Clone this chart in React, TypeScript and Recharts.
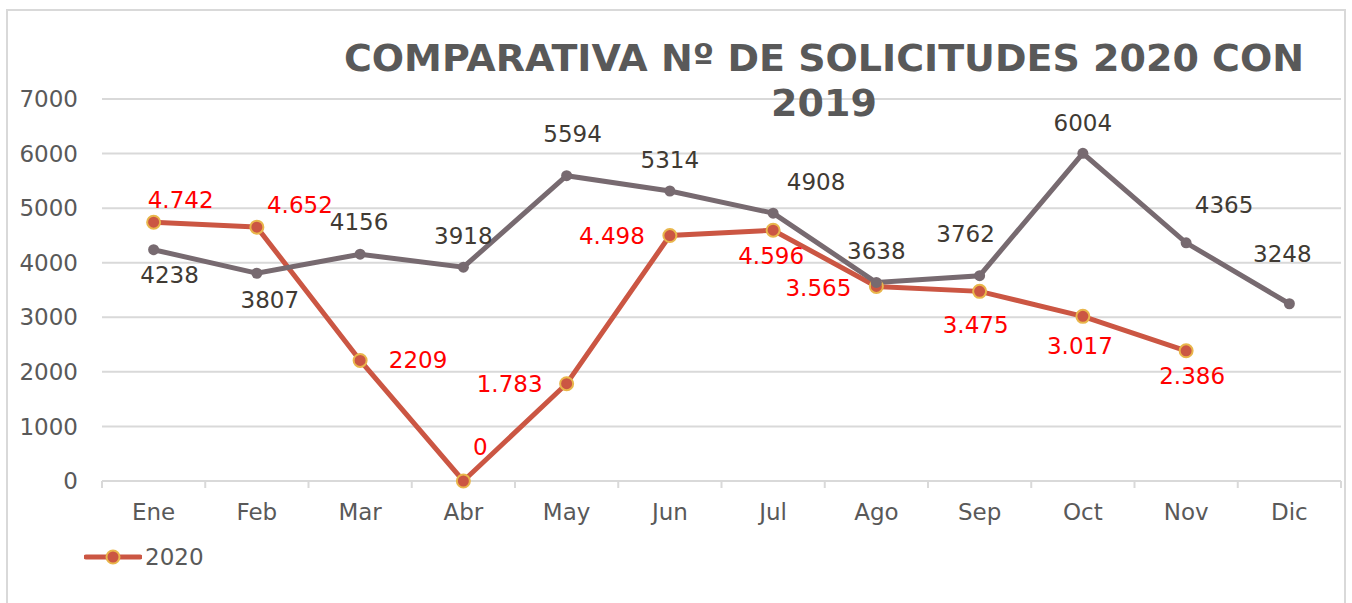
import React from 'react'
import { LineChart, Line, XAxis, YAxis, CartesianGrid, LabelList } from 'recharts'

const months = ['Ene', 'Feb', 'Mar', 'Abr', 'May', 'Jun', 'Jul', 'Ago', 'Sep', 'Oct', 'Nov', 'Dic']
const values2019 = [4238, 3807, 4156, 3918, 5594, 5314, 4908, 3638, 3762, 6004, 4365, 3248]
const values2020 = [4742, 4652, 2209, 0, 1783, 4498, 4596, 3565, 3475, 3017, 2386, null]
const labels2020 = ['4.742', '4.652', '2209', '0', '1.783', '4.498', '4.596', '3.565', '3.475', '3.017', '2.386', '']
const yTicks = [0, 1000, 2000, 3000, 4000, 5000, 6000, 7000]

// label centre offsets from the marker (dx, dy), as placed in the original
const offsets2019: [number, number][] = [
  [16, 25], [13, 27], [-1, -32], [0, -31], [6, -42], [0, -31],
  [43, -31], [0, -31], [-14, -42], [0, -30], [38, -38], [-7, -50],
]
const offsets2020: [number, number][] = [
  [27, -22], [43, -22], [58, 0], [17, -34], [-57, 0], [-58, 0],
  [-2, 26], [-58, 2], [-4, 34], [-3, 30], [6, 25], [0, 0],
]

const W = 1352
const H = 603
const PLOT_LEFT = 102
const PLOT_RIGHT = 1341
const BAND = (PLOT_RIGHT - PLOT_LEFT) / months.length

const FONT = '"DejaVu Sans", Verdana, sans-serif'
const FS = 23
const AXIS_TEXT = '#595959'
const GRID = '#d9d9d9'
const C2019 = '#776a70'
const C2020 = '#cb5643'
const MARKER_EDGE = '#e9b64b'

const data = months.map((m, i) => ({
  month: m,
  y2019: values2019[i],
  y2020: values2020[i],
}))

const MonthTick = (props: any) => {
  const { x, y, payload, index } = props
  return (
    <g>
      <line x1={x - BAND / 2} x2={x - BAND / 2} y1={y} y2={y + 7} stroke={GRID} strokeWidth={2} />
      {index === months.length - 1 && (
        <line x1={x + BAND / 2} x2={x + BAND / 2} y1={y} y2={y + 7} stroke={GRID} strokeWidth={2} />
      )}
      <text x={x} y={y + 39} textAnchor="middle" fill={AXIS_TEXT} fontSize={FS} fontFamily={FONT}>
        {payload.value}
      </text>
    </g>
  )
}

const makeLabel = (offsets: [number, number][], color: string, texts?: string[]) => (props: any) => {
  const { x, y, index, value } = props
  if (value == null || x == null || y == null) return null
  const [dx, dy] = offsets[index]
  return (
    <text
      x={x + dx}
      y={y + dy + 8}
      textAnchor="middle"
      fill={color}
      fontSize={FS}
      fontFamily={FONT}
    >
      {texts ? texts[index] : value}
    </text>
  )
}

export default function App() {
  return (
    <div style={{ position: 'fixed', left: 0, top: 0, width: W, height: H, background: '#fff', fontFamily: FONT, overflow: 'hidden' }}>
      {/* chart frame */}
      <div style={{ position: 'absolute', left: 6, top: 9, width: 1340, height: 620, border: `2px solid ${GRID}`, boxSizing: 'border-box' }} />

      <LineChart
        width={W}
        height={H}
        data={data}
        margin={{ top: 99, right: W - PLOT_RIGHT, bottom: 92, left: 0 }}
        style={{ position: 'absolute', left: 0, top: 0 }}
      >
        <CartesianGrid vertical={false} stroke={GRID} strokeWidth={2} />
        <XAxis
          dataKey="month"
          height={30}
          padding={{ left: BAND / 2, right: BAND / 2 }}
          axisLine={{ stroke: GRID, strokeWidth: 2 }}
          tickLine={false}
          tickSize={0}
          tickMargin={0}
          interval={0}
          tick={<MonthTick />}
        />
        <YAxis
          width={PLOT_LEFT}
          domain={[0, 7000]}
          ticks={yTicks}
          axisLine={false}
          tickLine={false}
          tickSize={0}
          tickMargin={24}
          tick={{ fill: AXIS_TEXT, fontSize: FS, fontFamily: FONT }}
        />
        <Line
          dataKey="y2020"
          stroke={C2020}
          strokeWidth={5}
          dot={{ r: 6.5, fill: C2020, stroke: MARKER_EDGE, strokeWidth: 2 }}
          isAnimationActive={false}
        >
          <LabelList dataKey="y2020" content={makeLabel(offsets2020, '#ff0000', labels2020)} />
        </Line>
        <Line
          dataKey="y2019"
          stroke={C2019}
          strokeWidth={5}
          dot={{ r: 5.5, fill: C2019, stroke: 'none' }}
          isAnimationActive={false}
        >
          <LabelList dataKey="y2019" content={makeLabel(offsets2019, '#403a33')} />
        </Line>
      </LineChart>

      {/* title */}
      <div
        style={{
          position: 'absolute', left: 324, top: 36, width: 1000, textAlign: 'center',
          fontSize: 38, lineHeight: '45px', fontWeight: 700, color: AXIS_TEXT,
        }}
      >
        COMPARATIVA Nº DE SOLICITUDES 2020 CON
        <br />
        2019
      </div>

      {/* legend */}
      <div style={{ position: 'absolute', left: 84, top: 542, display: 'flex', alignItems: 'center' }}>
        <svg width={58} height={30}>
          <line x1={2} x2={56} y1={15} y2={15} stroke={C2020} strokeWidth={5} strokeLinecap="round" />
          <circle cx={29} cy={15} r={6.5} fill={C2020} stroke={MARKER_EDGE} strokeWidth={2} />
        </svg>
        <span style={{ fontSize: FS, color: AXIS_TEXT, marginLeft: 3 }}>2020</span>
      </div>
    </div>
  )
}
